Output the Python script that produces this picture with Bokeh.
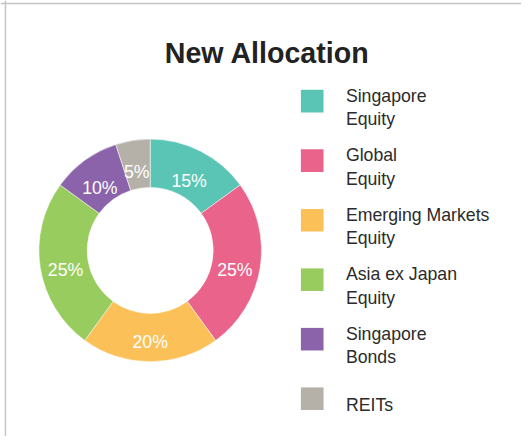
import math
from bokeh.plotting import figure
from bokeh.models import Range1d, Span, ColumnDataSource
from bokeh.core.properties import value
from bokeh.embed import file_html
from bokeh.resources import INLINE

# ---- data ----
title = "New Allocation"
categories = ["Singapore Equity", "Global Equity", "Emerging Markets Equity",
              "Asia ex Japan Equity", "Singapore Bonds", "REITs"]
legend_labels = ["Singapore\nEquity", "Global\nEquity", "Emerging Markets\nEquity",
                 "Asia ex Japan\nEquity", "Singapore\nBonds", "REITs"]
values = [15, 25, 20, 25, 10, 5]
colors = ["#5BC5B5", "#E9638A", "#FBC058", "#99CC5E", "#8A63AA", "#B5B1A9"]

# ---- layout: data units = reference pixels (529 x 444 canvas) ----
W, H = 521, 436
RW, RH = 529, 444
S = W / RW
def Y(py):
    return RH - py
def fs(px):
    return f"{px * S:.1f}px"

FONT = "Liberation Sans"
cx, cy = 152, 254.5
r_in, r_out, r_lab = 64, 113, 87

p = figure(width=W, height=H, x_range=Range1d(0, RW), y_range=Range1d(0, RH),
           output_backend="svg", toolbar_location=None, min_border=0,
           x_axis_type=None, y_axis_type=None)
p.outline_line_color = None
p.background_fill_color = "white"
p.border_fill_color = "white"

# frame lines (left and top)
p.add_layout(Span(location=5, dimension="height", line_color="#c4c4c4", line_width=1.5))
p.add_layout(Span(location=Y(3), dimension="width", line_color="#c4c4c4", line_width=1.5))

# ---- donut ----
total = float(sum(values))
starts, ends, mids = [], [], []
c = 0.0
for v in values:
    a0 = math.pi / 2 - 2 * math.pi * c / total
    c += v
    a1 = math.pi / 2 - 2 * math.pi * c / total
    starts.append(a0)
    ends.append(a1)
    mids.append((a0 + a1) / 2)

src = ColumnDataSource(dict(cat=categories, val=values, color=colors, start=starts, end=ends))
p.annular_wedge(x=cx, y=Y(cy), inner_radius=r_in, outer_radius=r_out,
                start_angle="start", end_angle="end", direction="clock",
                fill_color="color", line_color="white", line_width=0.5, source=src)

lab_fs = 18
lab_src = ColumnDataSource(dict(
    x=[cx + r_lab * math.cos(m) for m in mids],
    y=[Y(cy) + r_lab * math.sin(m) - 0.358 * lab_fs for m in mids],
    t=[f"{v}%" for v in values]))
p.text(x="x", y="y", text="t", source=lab_src, text_color="white",
       text_font=value(FONT), text_font_size=fs(lab_fs),
       text_align="center", text_baseline="alphabetic")

# ---- title ----
p.text(x=[270.8], y=[Y(53.3)], text=[title], text_color="#222222",
       text_font=value(FONT), text_font_size=fs(29), text_font_style="bold",
       text_align="center", text_baseline="alphabetic")

# ---- legend ----
sq_x, sq_y0, sq_dy, sq = 316.5, 102.5, 60.6, 23
leg_fs, leg_lh = 18, 24
sq_ys = [Y(sq_y0 + sq_dy * i) for i in range(len(categories))]
p.rect(x=sq_x, y=sq_ys, width=sq, height=sq, fill_color=colors, line_color=None)

tx, ty, tt = [], [], []
for i, lab in enumerate(legend_labels):
    lines = lab.split("\n")
    n = len(lines)
    for k, ln in enumerate(lines):
        center = sq_y0 + sq_dy * i + (k - (n - 1) / 2) * leg_lh
        tx.append(350.7)
        ty.append(Y(center + 0.358 * leg_fs))
        tt.append(ln)
p.text(x=tx, y=ty, text=tt, text_color="#2b2b2b", text_font=value(FONT),
       text_font_size=fs(leg_fs), text_align="left", text_baseline="alphabetic")

open("out.html", "w").write(file_html(p, INLINE))
